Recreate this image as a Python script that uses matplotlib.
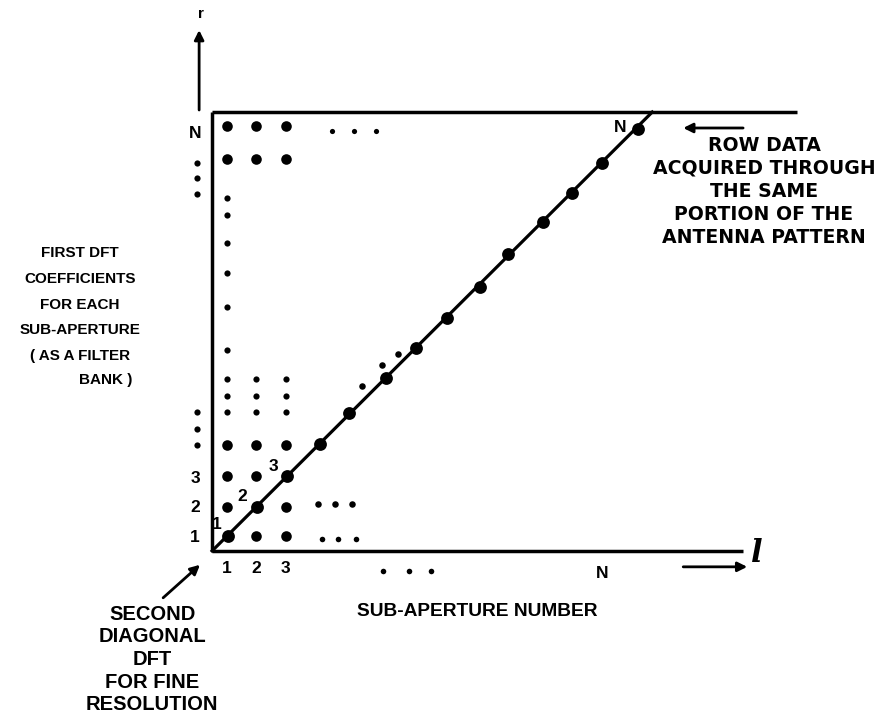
import itertools
import numpy as np
import matplotlib
matplotlib.use("Agg")
import matplotlib.pyplot as plt

plt.rcParams["font.family"] = ["Liberation Sans", "DejaVu Sans"]

# ── Data (schematic index units) ──────────────────────────────────────────────
col_idx   = [1, 2, 3]
low_rows  = [1.0, 2.0, 3.05, 4.1]           # rows 1..4 of the filter bank
mid_rows  = [5.21, 5.75, 6.33]               # fading rows (ellipsis)
col1_rows = [7.31, 8.77, 9.92, 10.94, 11.89, 12.47]
top_rows  = [13.79, 14.91]                   # rows N-1, N

diag_x = [1.04, 2.03, 3.04, 4.16, 5.14, 6.40, 7.42, 8.47, 9.59, 10.53,
          11.72, 12.70, 13.72, 14.94]
diag_y = [1.01, 1.99, 3.04, 4.13, 5.18, 6.37, 7.38, 8.40, 9.45, 10.57,
          11.65, 12.64, 13.66, 14.81]

near_diag_x = [5.58, 6.26, 6.81]
near_diag_y = [6.09, 6.81, 7.18]

row1_extra_x = [4.23, 4.77, 5.38]; row1_extra_y = 0.91
row2_extra_x = [4.09, 4.67, 5.25]; row2_extra_y = 2.09
rowN_extra_x = [4.57, 5.31, 6.06]; rowN_extra_y = 14.74
bottom_dots_x = [6.30, 7.18, 7.92]; bottom_dots_y = -0.18
left_dots_top = [13.65, 13.14, 12.60]
left_dots_low = [5.21, 4.64, 4.09]

left_ticks   = ["1", "2", "3", "N"]
left_tick_y  = [0.94, 1.96, 2.97, 14.67]
bottom_ticks = ["1", "2", "3", "N"]
bottom_tick_x = [1.0, 2.0, 3.0, 13.72]
bottom_tick_y = [-0.08, -0.08, -0.08, -0.28]
diag_labels  = ["1", "2", "3", "N"]
diag_label_xy = [(0.67, 1.38), (1.52, 2.33), (2.57, 3.35), (14.33, 14.87)]

right_text = ["ROW DATA", "ACQUIRED THROUGH", "THE SAME",
              "PORTION OF THE", "ANTENNA PATTERN"]
left_text  = ["FIRST DFT", "COEFFICIENTS", "FOR EACH", "SUB-APERTURE",
              "( AS A FILTER"]
bl_text    = ["SECOND", "DIAGONAL", "DFT", "FOR FINE", "RESOLUTION"]

# ── Figure ────────────────────────────────────────────────────────────────────
fig = plt.figure(figsize=(8.85, 7.14), dpi=100)
ax = fig.add_axes([0, 0, 1, 1])
ax.set_xlim(-6.69, 23.31)
ax.set_ylim(-5.03, 19.18)
ax.axis("off")

K = "black"
TOP = 15.38

# frame lines
ax.plot([0.5, 0.5], [0.5, TOP], color=K, lw=2.5, solid_capstyle="butt")
ax.plot([0.5, 20.33], [TOP, TOP], color=K, lw=2.5, solid_capstyle="butt")
ax.plot([0.5, 18.5], [0.5, 0.5], color=K, lw=2.5, solid_capstyle="butt")
ax.plot([0.5, 15.42], [0.5, TOP], color=K, lw=2.3)

# axis arrows
arrow = dict(arrowstyle="-|>", lw=2.0, color=K, mutation_scale=14,
             shrinkA=0, shrinkB=0)
ax.annotate("", xy=(0.06, 18.16), xytext=(0.06, 15.45), arrowprops=arrow)
ax.text(0.13, 18.72, "r", fontsize=11, fontweight="bold",
        ha="center", va="center")
ax.annotate("", xy=(18.64, -0.04), xytext=(16.47, -0.04), arrowprops=arrow)
ax.text(18.97, 0.4, "l", fontsize=22, fontstyle="italic", fontweight="bold",
        family="DejaVu Serif", ha="center", va="center")

# dots: lower block (skip diagonal)
big = [(c, r) for (i, c), (j, r) in itertools.product(enumerate(col_idx),
                                                      enumerate(low_rows))
       if i != j]
big += [(c, r) for c in col_idx for r in top_rows]
bx, by = zip(*big)
ax.scatter(bx, by, s=58, color=K, lw=0, zorder=3)

mid = [(c, r) for c in col_idx for r in mid_rows]
mx, my = zip(*mid)
ax.scatter(mx, my, s=20, color=K, lw=0, zorder=3)
ax.scatter([1.0] * len(col1_rows), col1_rows, s=20, color=K, lw=0, zorder=3)

ax.scatter(diag_x, diag_y, s=85, color=K, lw=0, zorder=4)
ax.scatter(near_diag_x, near_diag_y, s=22, color=K, lw=0, zorder=3)

ax.scatter(row1_extra_x, [row1_extra_y] * 3, s=16, color=K, lw=0)
ax.scatter(row2_extra_x, [row2_extra_y] * 3, s=22, color=K, lw=0)
ax.scatter(rowN_extra_x, [rowN_extra_y] * 3, s=14, color=K, lw=0)
ax.scatter(bottom_dots_x, [bottom_dots_y] * 3, s=16, color=K, lw=0)
ax.scatter([-0.01] * 3, left_dots_top, s=20, color=K, lw=0)
ax.scatter([-0.01] * 3, left_dots_low, s=20, color=K, lw=0)

# tick-like labels
tk = dict(fontsize=12.5, fontweight="bold", ha="center", va="center")
for lab, y in zip(left_ticks, left_tick_y):
    ax.text(-0.08, y, lab, **tk)
for lab, x, y in zip(bottom_ticks, bottom_tick_x, bottom_tick_y):
    ax.text(x, y, lab, **tk)
for lab, (x, y) in zip(diag_labels, diag_label_xy):
    ax.text(x, y, lab, **tk)

# text blocks (stick-on lettering of different sizes)
for i, line in enumerate(right_text):
    ax.text(19.21, 14.26 - i * 0.78, line, fontsize=13.6, fontweight="bold",
            family="DejaVu Sans", ha="center", va="center")
for i, line in enumerate(left_text):
    ax.text(-3.97, 10.6 - i * 0.875, line, fontsize=11, fontweight="bold",
            ha="center", va="center")
ax.text(-2.2, 10.6 - 5 * 0.86, "BANK )", fontsize=11, fontweight="bold",
        ha="right", va="center")
for i, line in enumerate(bl_text):
    ax.text(-1.53, -1.64 - i * 0.77, line, fontsize=14.5, fontweight="bold",
            ha="center", va="center")
ax.text(5.42, -1.57, "SUB-APERTURE NUMBER", fontsize=13.8, fontweight="bold",
        ha="left", va="center")

# annotation arrows
ax.annotate("", xy=(16.47, 14.84), xytext=(18.5, 14.84), arrowprops=arrow)
ax.annotate("", xy=(0.09, 0.03), xytext=(-1.16, -1.09), arrowprops=arrow)

fig.savefig("out.png", dpi=100)
